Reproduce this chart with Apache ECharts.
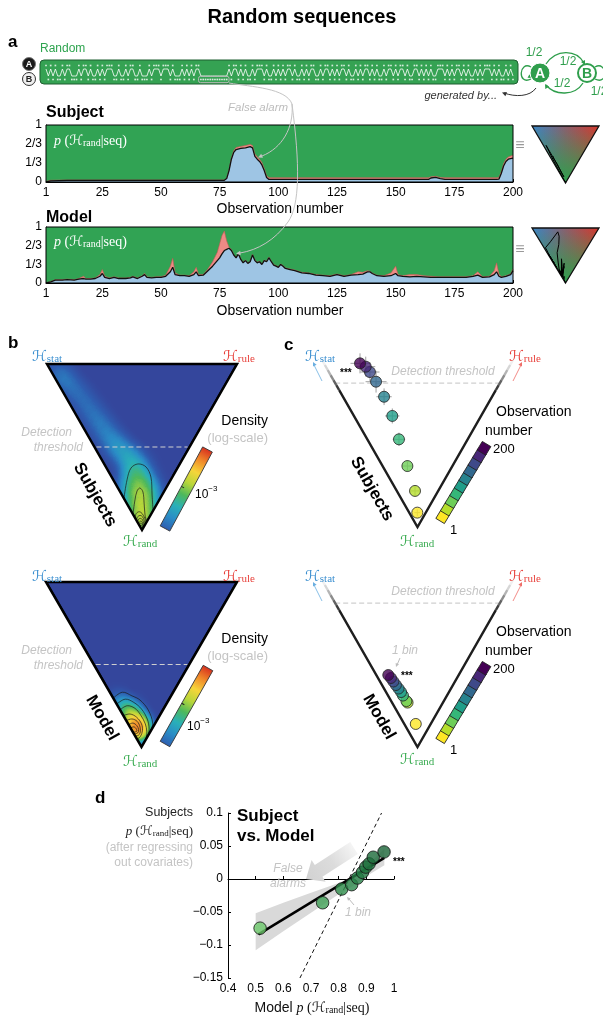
<!DOCTYPE html>
<html>
<head>
<meta charset="utf-8">
<title>Random sequences</title>
<script src="https://cdn.jsdelivr.net/npm/echarts@6/dist/echarts.min.js"></script>
<style>
html,body{margin:0;padding:0;background:#fff;}
#chart{width:603px;height:1017px;}
</style>
</head>
<body>
<div id="chart"></div>
<script>
// ---------------- data ----------------
// Observed binary sequence (A = upper row, B = lower row)
const sequence = [
  'ABABABBABAABBBABAABA', 'BBABABAAABBABBABAABB', 'ABBBABAAABAAABABBBAB', 'ABABAABBBBBBBBBBBBAB',
  'AABABABBABAAABABBABA', 'BABAABABBABABAABBABA', 'ABABABAABABBABABAABA', 'BABBABAABABAABABBAAB',
  'ABABABBAAABABABAABAB', 'ABBABABAAABABABBABAB'
].join('');
const falseAlarmRun = [67, 78];           // observations of the long B run
const obsTickValues = [1, 25, 50, 75, 100, 125, 150, 175, 200];

// posterior over hypotheses: [observation, p(stat), p(rule)]; p(rand) is the remainder
const subjectPosterior = [
  [1, 0.00, 0.01], [3, 0.02, 0.01], [10, 0.03, 0.005], [40, 0.03, 0.005], [77, 0.03, 0.005],
  [78, 0.06, 0.005], [79, 0.20, 0.01], [80, 0.40, 0.02], [81, 0.52, 0.03], [82, 0.57, 0.035],
  [84, 0.59, 0.035], [86, 0.60, 0.04], [88, 0.62, 0.04], [89, 0.60, 0.04], [90, 0.45, 0.04],
  [91, 0.40, 0.04], [92, 0.36, 0.04], [93, 0.30, 0.04], [94, 0.20, 0.035], [95, 0.08, 0.03],
  [96, 0.045, 0.03], [164, 0.045, 0.03], [165, 0.07, 0.02], [167, 0.08, 0.02], [169, 0.06, 0.02],
  [171, 0.045, 0.03], [193, 0.045, 0.03], [194, 0.05, 0.03], [195, 0.15, 0.03], [196, 0.28, 0.04],
  [197, 0.36, 0.04], [198, 0.40, 0.04], [200, 0.42, 0.05]
];
const modelPosterior = [
  [1,0,0],[3,.02,.005],[5,.05,.01],[8,.05,.01],[10,.06,.01],[13,.05,.01],[15,.07,.01],[17,.08,.04],
  [18,.07,.01],[20,.07,.01],[22,.08,.01],[24,.12,.03],[25,.17,.07],[26,.10,.02],[28,.08,.01],[30,.10,.01],
  [32,.08,.01],[35,.08,.01],[37,.09,.01],[38,.11,.01],[40,.08,.01],[42,.12,.01],[43,.15,.02],[44,.10,.01],
  [46,.09,.01],[48,.10,.01],[50,.10,.01],[52,.12,.02],[54,.20,.10],[55,.28,.16],[56,.15,.03],[58,.13,.01],
  [60,.13,.01],[62,.12,.01],[64,.15,.05],[65,.20,.08],[66,.13,.02],[68,.14,.01],[70,.22,.03],[72,.30,.08],
  [74,.40,.15],[75,.45,.25],[76,.52,.33],[77,.58,.35],[78,.60,.15],[79,.62,.02],[80,.58,.02],[81,.50,.01],
  [82,.45,.01],[83,.52,.01],[84,.42,.01],[85,.36,.01],[86,.40,.01],[87,.35,.01],[88,.38,.01],[89,.50,.01],
  [90,.40,.01],[91,.36,.01],[92,.38,.01],[93,.33,.01],[94,.40,.01],[95,.38,.01],[96,.45,.01],[97,.38,.01],
  [98,.32,.01],[99,.30,.01],[100,.28,.01],[101,.33,.01],[102,.30,.01],[103,.26,.01],[105,.24,.01],[107,.22,.01],
  [110,.18,.01],[113,.17,.01],[116,.14,.01],[119,.13,.01],[122,.12,.01],[125,.15,.01],[128,.12,.01],[131,.14,.01],
  [134,.15,.05],[136,.16,.03],[138,.20,.02],[139,.20,.01],[140,.17,.01],[142,.13,.01],[145,.12,.01],[148,.13,.05],
  [150,.17,.13],[151,.13,.02],[153,.12,.01],[156,.11,.04],[159,.12,.03],[162,.11,.02],[165,.10,.02],[168,.10,.01],
  [171,.10,.01],[174,.10,.01],[177,.10,.01],[180,.10,.01],[183,.12,.01],[185,.14,.06],[187,.10,.01],[190,.11,.01],
  [192,.15,.07],[193,.20,.16],[194,.12,.04],[195,.10,.01],[197,.12,.01],[199,.15,.01],[200,.22,.03]
];

// simplex coordinates: x = p(rule) - p(stat), y = p(rule) + p(stat); apex = H_rand
const subjectDensity = [
  [0,0.03,0.6],
  [-0.05,0.08,0.18],[0,0.08,0.18],[0.05,0.08,0.18],
  [-0.10,0.14,0.17],[-0.04,0.14,0.17],[0.02,0.14,0.17],[0.08,0.14,0.17],
  [-0.13,0.20,0.155],[-0.07,0.20,0.155],[-0.01,0.20,0.155],[0.05,0.20,0.155],[0.10,0.20,0.155],
  [-0.15,0.26,0.14],[-0.09,0.26,0.14],[-0.03,0.26,0.14],[0.03,0.26,0.14],[0.09,0.26,0.14],
  [-0.14,0.32,0.13],[-0.08,0.32,0.13],[-0.02,0.32,0.13],[0.04,0.32,0.13],
  [-0.12,0.38,0.1],[-0.06,0.38,0.1],[0.00,0.38,0.1],
  [-0.10,0.43,0.075],[-0.04,0.43,0.075],
  [-0.15,0.44,0.16],[-0.20,0.47,0.15],[-0.25,0.50,0.14],[-0.30,0.53,0.13],[-0.35,0.57,0.12],
  [-0.40,0.61,0.115],[-0.45,0.65,0.105],[-0.50,0.69,0.1],[-0.55,0.73,0.09],[-0.60,0.77,0.09],[-0.65,0.81,0.08],
  [-0.70,0.84,0.08],[-0.75,0.87,0.08],[-0.80,0.90,0.09],[-0.85,0.93,0.1],[-0.90,0.96,0.11]
];
const modelDensity = [
  [-0.05,0.09,0.8],[-0.06,0.11,0.75],[-0.04,0.12,0.7],
  [-0.10,0.15,0.6],[-0.02,0.15,0.5],[-0.13,0.19,0.45],[-0.06,0.19,0.45],[0.00,0.10,0.45],[0.03,0.13,0.33],
  [-0.17,0.23,0.35],[-0.10,0.24,0.32],[-0.21,0.26,0.28],[-0.25,0.29,0.2]
];
const subjectContours = [
  [[-0.19,0.19],[-0.158,0.301],[-0.116,0.373],[-0.042,0.398],[0.042,0.38],[0.094,0.319],[0.106,0.211],[0.116,0.12]],
  [[-0.095,0.095],[-0.074,0.181],[-0.052,0.235],[-0.022,0.253],[0.01,0.229],[0.022,0.163],[0.032,0.09],[0.045,0.06]],
  [[-0.075,0.075],[-0.06,0.10],[-0.03,0.11],[0,0.10],[0.03,0.07],[0.045,0.045]],
  [[-0.06,0.06],[-0.045,0.08],[-0.02,0.088],[0.005,0.08],[0.025,0.055],[0.035,0.035]],
  [[-0.048,0.048],[-0.035,0.065],[-0.015,0.07],[0.005,0.062],[0.02,0.04],[0.028,0.028]],
  [[-0.038,0.038],[-0.025,0.05],[-0.01,0.054],[0.005,0.046],[0.02,0.02]],
  [[-0.03,0.03],[-0.018,0.04],[-0.005,0.042],[0.008,0.03],[0.014,0.014]],
  [[-0.022,0.022],[-0.01,0.03],[0.003,0.025],[0.01,0.01]]
];
const modelContours = [
  [[-0.296,0.296],[-0.2,0.332],[-0.1,0.31],[-0.016,0.285],[0.071,0.224],[0.117,0.144],[0.09,0.09]],
  [[-0.26,0.26],[-0.17,0.29],[-0.08,0.27],[0,0.23],[0.06,0.17],[0.08,0.11],[0.07,0.07]],
  [[-0.225,0.225],[-0.15,0.25],[-0.07,0.235],[-0.01,0.195],[0.04,0.14],[0.055,0.095],[0.05,0.05]],
  [[-0.19,0.19],[-0.12,0.2],[-0.05,0.18],[0,0.14],[0.01,0.1],[-0.01,0.065],[-0.04,0.05],[-0.055,0.055]],
  [[-0.16,0.16],[-0.1,0.17],[-0.045,0.155],[-0.015,0.12],[-0.015,0.085],[-0.035,0.07],[-0.068,0.068]],
  [[-0.135,0.135],[-0.09,0.145],[-0.05,0.13],[-0.03,0.105],[-0.04,0.085],[-0.08,0.08]],
  [[-0.115,0.115],[-0.08,0.122],[-0.055,0.11],[-0.05,0.095],[-0.09,0.09]]
];
const thresholdB = 0.5;
const thresholdC = 0.862;

// 10 bins of 20 observations (bin 1 first)
const binColors = ['#fde725','#b5de2b','#6ece58','#35b779','#1f9e89','#26828e','#31688e','#3e4989','#482878','#440154'];
const subjectBins = [[-0.002,0.086],[-0.026,0.216],[-0.106,0.365],[-0.194,0.525],[-0.264,0.665],
                     [-0.35,0.78],[-0.434,0.87],[-0.498,0.928],[-0.542,0.96],[-0.602,0.98]];
const subjectBinErr = [[0.03,0.02],[0.05,0.03],[0.055,0.033],[0.065,0.04],[0.075,0.045],
                       [0.08,0.05],[0.11,0.065],[0.1,0.06],[0.1,0.06],[0.1,0.06]];
const modelBins = [[-0.018,0.138],[-0.104,0.266],[-0.116,0.275],[-0.152,0.308],[-0.172,0.329],
                   [-0.198,0.35],[-0.226,0.371],[-0.252,0.392],[-0.278,0.413],[-0.306,0.431]];

// subject vs model, per bin
const dModelP = [0.516, 0.742, 0.811, 0.847, 0.868, 0.886, 0.898, 0.910, 0.925, 0.964];
const dSubjectP = [-0.0745, -0.036, -0.0152, -0.0086, 0.0015, 0.0100, 0.018, 0.023, 0.033, 0.041];
const dColors = ['#6cc86a','#3f9f55','#2f8f4c','#2a874a','#268046','#237a43','#217540','#1f703d','#1c6a3a','#1a6437'];
const dFit = [[0.51,-0.084],[0.965,0.032]];
const dBandUpper = [[0.5,-0.052],[0.6,-0.036],[0.7,-0.021],[0.8,-0.006],[0.85,0.003],[0.9,0.019],[0.965,0.046]];
const dBandLower = [[0.5,-0.108],[0.6,-0.079],[0.7,-0.051],[0.8,-0.023],[0.85,-0.011],[0.9,0.004],[0.965,0.021]];
const dIdentity = [[0.66,-0.15],[0.955,0.1]];

// ---------------- styling ----------------
const SANS = '"Liberation Sans", Arial, sans-serif';
const SERIF = '"Liberation Serif", serif';
const SCRIPT = '"DejaVu Serif", "DejaVu Sans", serif';
const GREEN = '#31a354', PINK = '#ee8a85', LIGHTBLUE = '#9ec5e4';
const STAT_BLUE = '#3b8fd0', RULE_RED = '#e8413b', RAND_GREEN = '#3aac52';
const GRAYTXT = '#c4c4c4';
const jetColors = ['#34469c','#2e5db0','#2a8cc6','#29b0b8','#4db85c','#b8d63a','#f6d53a','#f0892a','#d7301f'];

const L = {
  seq:   {left: 46, top: 62, width: 467, height: 21},
  subj:  {left: 46, top: 125, width: 467, height: 57},
  model: {left: 46, top: 227, width: 467, height: 56},
  iconS: {left: 532, top: 126, width: 67, height: 57},
  iconM: {left: 532, top: 228, width: 67, height: 55},
  cS:    {left: 322, top: 360, width: 191, height: 167},
  cM:    {left: 322, top: 580, width: 191, height: 167},
  d:     {left: 228, top: 813, width: 166, height: 165},
  bS:    {left: 47, top: 364, width: 190, height: 166},
  bM:    {left: 46, top: 582, width: 191, height: 165}
};

const observations = [];
for (let i = 1; i <= 200; i++) observations.push(String(i));
const isObsTick = (idx) => obsTickValues.indexOf(idx + 1) >= 0;

// ---------------- helpers ----------------
function T(x, y, text, style, extra) {
  return Object.assign({type: 'text', x: x, y: y, z: 100, silent: true,
    style: Object.assign({text: text, fill: '#000', font: '12px ' + SANS, align: 'left', verticalAlign: 'middle'}, style || {})}, extra || {});
}
function richStyles(size, color) {
  const lh = size * 1.3;
  return {
    t: {font: size + 'px ' + SANS, fill: color, lineHeight: lh, verticalAlign: 'bottom'},
    i: {font: 'italic ' + size + 'px ' + SERIF, fill: color, lineHeight: lh, verticalAlign: 'bottom'},
    n: {font: size + 'px ' + SERIF, fill: color, lineHeight: lh, verticalAlign: 'bottom'},
    h: {font: size + 'px ' + SCRIPT, fill: color, lineHeight: lh, verticalAlign: 'bottom'},
    s: {font: Math.round(size * 0.7) + 'px ' + SERIF, fill: color, lineHeight: size * 0.62, verticalAlign: 'bottom'}
  };
}
function pText(x, y, size, color, align, prefix) {
  return T(x, y, (prefix ? '{t|' + prefix + '}' : '') + '{i|p}{n| (}{h|ℋ}{s|rand}{n||seq)}',
    {rich: richStyles(size, color), align: align || 'left'});
}
function hText(x, y, sub, color, align) {
  return T(x, y, '{h|ℋ}{s|' + sub + '}', {rich: richStyles(15, color), align: align || 'left'});
}
function arrowHead(x, y, ang, size, color) {
  const a1 = ang + Math.PI * 0.85, a2 = ang - Math.PI * 0.85;
  return {type: 'polygon', z: 100, silent: true,
    shape: {points: [[x, y], [x + size * Math.cos(a1), y + size * Math.sin(a1)], [x + size * Math.cos(a2), y + size * Math.sin(a2)]]},
    style: {fill: color}};
}
function curve(x1, y1, c1x, c1y, c2x, c2y, x2, y2, color, w, dash) {
  return {type: 'bezierCurve', z: 100, silent: true,
    shape: {x1: x1, y1: y1, cpx1: c1x, cpy1: c1y, cpx2: c2x, cpy2: c2y, x2: x2, y2: y2},
    style: {stroke: color, lineWidth: w || 1, fill: 'none', lineDash: dash || null}};
}
function seg(x1, y1, x2, y2, color, w) {
  return {type: 'line', z: 100, silent: true, shape: {x1: x1, y1: y1, x2: x2, y2: y2}, style: {stroke: color, lineWidth: w || 1}};
}
function fatArrow(x1, y1, x2, y2, w, hw, hl) {
  const dx = x2 - x1, dy = y2 - y1, len = Math.hypot(dx, dy), ux = dx / len, uy = dy / len, nx = -uy, ny = ux;
  const bx = x2 - ux * hl, by = y2 - uy * hl;
  return {type: 'polygon', z: 3, silent: true, shape: {points: [
    [x1 + nx * w / 2, y1 + ny * w / 2], [bx + nx * w / 2, by + ny * w / 2], [bx + nx * hw / 2, by + ny * hw / 2], [x2, y2],
    [bx - nx * hw / 2, by - ny * hw / 2], [bx - nx * w / 2, by - ny * w / 2], [x1 - nx * w / 2, y1 - ny * w / 2]]},
    style: {fill: new echarts.graphic.LinearGradient(x1, y1, x2, y2,
      [{offset: 0, color: 'rgba(220,220,220,0.3)'}, {offset: 0.45, color: '#dcdcdc'}, {offset: 1, color: '#d2d2d2'}], true)}};
}
// colour strip laid along a slanted edge, from (x0,y0) to (x1,y1)
function jetBar(x0, y0, x1, y1, w) {
  const len = Math.hypot(x1 - x0, y1 - y0), ang = Math.atan2(-(y1 - y0), x1 - x0);
  const stops = jetColors.slice(1).map((c, i, a) => ({offset: i / (a.length - 1), color: c}));
  return {type: 'group', x: x0, y: y0, rotation: ang, z: 100, silent: true, children: [
    {type: 'rect', z: 100, shape: {x: 0, y: -w / 2, width: len, height: w},
     style: {fill: {type: 'linear', x: 0, y: 0, x2: 1, y2: 0, colorStops: stops}, stroke: '#333', lineWidth: 0.8}},
    {type: 'line', z: 100, shape: {x1: len * 0.5, y1: -w / 2, x2: len * 0.5, y2: -w / 2 + 3}, style: {stroke: '#222', lineWidth: 1}}
  ]};
}
function binBar(x0, y0, x1, y1, size) {
  const len = Math.hypot(x1 - x0, y1 - y0), ang = Math.atan2(-(y1 - y0), x1 - x0), step = len / (binColors.length - 1);
  return {type: 'group', x: x0, y: y0, rotation: ang, z: 100, silent: true,
    children: binColors.map((c, i) => ({type: 'rect', z: 100, shape: {x: i * step - size / 2, y: -size / 2, width: size, height: size},
      style: {fill: c, stroke: '#222', lineWidth: 0.8}}))};
}

// ---------------- series ----------------
const series = [];
const seqDots = [], seqLine = [];
for (let i = 0; i < sequence.length; i++) {
  const up = sequence[i] === 'A';
  seqDots.push([i, up ? 1 : -1]);
  seqLine.push([i, up ? 0.5 : -0.5]);
}
series.push({type: 'scatter', xAxisIndex: 0, yAxisIndex: 0, data: seqDots, symbol: 'rect', symbolSize: [1.7, 1.7],
  itemStyle: {color: '#fff'}, silent: true, z: 3});
series.push({type: 'line', xAxisIndex: 0, yAxisIndex: 0, data: seqLine, symbol: 'none',
  lineStyle: {color: '#fff', width: 0.8}, silent: true, z: 3});
series.push({type: 'custom', xAxisIndex: 0, yAxisIndex: 0, data: [[falseAlarmRun[0] - 1, falseAlarmRun[1] - 1]], silent: true, z: 4,
  renderItem: function (params, api) {
    const a = api.coord([api.value(0) - 0.8, -0.55]), b = api.coord([api.value(1) + 0.8, -1.45]);
    return {type: 'rect', shape: {x: a[0], y: a[1], width: b[0] - a[0], height: b[1] - a[1], r: 2},
      style: {fill: 'none', stroke: '#b8b8b8', lineWidth: 1}};
  }});

function areaSeries(post, ai) {
  const common = {type: 'line', xAxisIndex: ai, yAxisIndex: ai, symbol: 'none', silent: true, z: 2};
  return [
    Object.assign({}, common, {data: post.map(r => [r[0] - 1, 1]), lineStyle: {width: 0}, areaStyle: {color: GREEN, opacity: 1}}),
    Object.assign({}, common, {data: post.map(r => [r[0] - 1, r[1] + r[2]]), lineStyle: {width: 0.6, color: '#c85a55'}, areaStyle: {color: PINK, opacity: 1}}),
    Object.assign({}, common, {data: post.map(r => [r[0] - 1, r[1]]), lineStyle: {width: 1.3, color: '#111'}, areaStyle: {color: LIGHTBLUE, opacity: 1}})
  ];
}
areaSeries(subjectPosterior, 1).forEach(s => series.push(s));
areaSeries(modelPosterior, 2).forEach(s => series.push(s));

function triIcon(params, api) {
  const tl = api.coord([-1, 1]), tr = api.coord([1, 1]), ap = api.coord([0, 0]);
  const pts = [tl, tr, ap];
  return {type: 'group', children: [
    {type: 'polygon', shape: {points: pts}, style: {fill: {type: 'linear', x: tl[0], y: 0, x2: tr[0], y2: 0, global: true,
      colorStops: [{offset: 0, color: '#3a86c6'}, {offset: 0.5, color: '#8a5f6e'}, {offset: 1, color: '#d9362c'}]}}},
    {type: 'polygon', shape: {points: pts}, style: {fill: {type: 'linear', x: 0, y: tl[1], x2: 0, y2: ap[1], global: true,
      colorStops: [{offset: 0, color: 'rgba(46,160,76,0)'}, {offset: 1, color: 'rgba(46,160,76,1)'}]}}},
    {type: 'polygon', shape: {points: pts}, style: {fill: 'none', stroke: '#111', lineWidth: 1.3}}
  ]};
}
[[3, subjectPosterior], [4, modelPosterior]].forEach(function (p) {
  series.push({type: 'custom', xAxisIndex: p[0], yAxisIndex: p[0], data: [[0, 0]], renderItem: triIcon, silent: true, z: 2});
  series.push({type: 'line', xAxisIndex: p[0], yAxisIndex: p[0], data: p[1].map(r => [r[2] - r[1], r[1] + r[2]]),
    symbol: 'none', lineStyle: {color: '#000', width: 1}, silent: true, z: 3});
});

// panel c: zoomed simplex with binned averages
const fadeGrays = ['#f0f0f0', '#d6d6d6', '#b4b4b4', '#8c8c8c', '#626262', '#3c3c3c'];
function vArms(params, api) {
  const ap = api.coord([0, 0]);
  const kids = [];
  const t0 = api.coord([-thresholdC, thresholdC]), t1 = api.coord([thresholdC, thresholdC]);
  kids.push({type: 'line', shape: {x1: t0[0], y1: t0[1], x2: t1[0], y2: t1[1]}, style: {stroke: '#cfcfcf', lineWidth: 1.2, lineDash: [5, 3]}});
  const fadeStart = 0.82, n = fadeGrays.length;
  kids.push({type: 'polyline', shape: {points: [api.coord([-fadeStart, fadeStart]), ap, api.coord([fadeStart, fadeStart])]},
    style: {stroke: '#1e1e1e', lineWidth: 2.4, fill: 'none', lineJoin: 'miter'}});
  [-1, 1].forEach(function (s) {
    for (let k = 0; k < n; k++) {
      const v0 = 1 - (1 - fadeStart) * k / n, v1 = 1 - (1 - fadeStart) * (k + 1) / n;
      const a = api.coord([s * v0, v0]), b = api.coord([s * v1, v1]);
      kids.push({type: 'line', shape: {x1: a[0], y1: a[1], x2: b[0], y2: b[1]}, style: {stroke: fadeGrays[k], lineWidth: 2.4}});
    }
  });
  return {type: 'group', children: kids};
}
series.push({type: 'custom', xAxisIndex: 5, yAxisIndex: 5, data: [[0, 0]], renderItem: vArms, silent: true, z: 2});
series.push({type: 'custom', xAxisIndex: 5, yAxisIndex: 5, silent: true, z: 3,
  data: subjectBins.map((b, i) => [b[0], b[1], subjectBinErr[i][0], subjectBinErr[i][1]]),
  renderItem: function (params, api) {
    const x = api.value(0), y = api.value(1), ex = api.value(2), ey = api.value(3);
    const a = api.coord([x - ex, y]), b = api.coord([x + ex, y]), c = api.coord([x, y - ey]), d = api.coord([x, y + ey]);
    return {type: 'group', children: [
      {type: 'line', shape: {x1: a[0], y1: a[1], x2: b[0], y2: b[1]}, style: {stroke: '#a0a0a0', lineWidth: 1}},
      {type: 'line', shape: {x1: c[0], y1: c[1], x2: d[0], y2: d[1]}, style: {stroke: '#a0a0a0', lineWidth: 1}}
    ]};
  }});
series.push({type: 'scatter', xAxisIndex: 5, yAxisIndex: 5, symbolSize: 11, silent: true, z: 4,
  data: subjectBins.map((b, i) => ({value: b, itemStyle: {color: binColors[i], borderColor: '#222', borderWidth: 1}}))});
series.push({type: 'custom', xAxisIndex: 6, yAxisIndex: 6, data: [[0, 0]], renderItem: vArms, silent: true, z: 2});
series.push({type: 'scatter', xAxisIndex: 6, yAxisIndex: 6, symbolSize: 11, silent: true, z: 4,
  data: modelBins.map((b, i) => ({value: b, itemStyle: {color: binColors[i], borderColor: '#222', borderWidth: 1}}))});

// panel b: density over the simplex
const heatIdx = [];
function simplexOverlay(contours) {
  return function (params, api) {
    const P = p => api.coord(p);
    const kids = [
      {type: 'polygon', shape: {points: [P([-1, 1]), P([0, 0]), P([0, -0.06]), P([-1.08, -0.06]), P([-1.08, 1.02]), P([-1, 1.02])]}, style: {fill: '#fff'}},
      {type: 'polygon', shape: {points: [P([1, 1]), P([0, 0]), P([0, -0.06]), P([1.08, -0.06]), P([1.08, 1.02]), P([1, 1.02])]}, style: {fill: '#fff'}}
    ];
    contours.forEach(c => kids.push({type: 'polyline', shape: {points: c.map(P), smooth: 0.35}, style: {stroke: '#1a1a1a', lineWidth: 0.7, fill: 'none'}}));
    const t0 = P([-thresholdB + 0.02, thresholdB]), t1 = P([thresholdB - 0.02, thresholdB]);
    kids.push({type: 'line', shape: {x1: t0[0], y1: t0[1], x2: t1[0], y2: t1[1]}, style: {stroke: '#cfcfcf', lineWidth: 1.2, lineDash: [5, 3]}});
    kids.push({type: 'polygon', shape: {points: [P([-1, 1]), P([1, 1]), P([0, 0])]}, style: {fill: 'none', stroke: '#000', lineWidth: 2.5, lineJoin: 'miter'}});
    return {type: 'group', children: kids};
  };
}
[[0, subjectDensity, subjectContours, 12, 16], [1, modelDensity, modelContours, 8, 14]].forEach(function (p) {
  heatIdx.push(series.length);
  series.push({type: 'heatmap', coordinateSystem: 'geo', geoIndex: p[0], data: p[1], pointSize: p[3], blurSize: p[4],
    minOpacity: 1, maxOpacity: 1, silent: true, z: 2});
  series.push({type: 'custom', coordinateSystem: 'geo', geoIndex: p[0], data: [[0, 0.5]], renderItem: simplexOverlay(p[2]), silent: true, z: 3});
});

// panel d
series.push({type: 'custom', xAxisIndex: 7, yAxisIndex: 7, data: [[0.5, 0]], silent: true, z: 2,
  renderItem: function (params, api) {
    const pts = dBandUpper.map(p => api.coord(p)).concat(dBandLower.slice().reverse().map(p => api.coord(p)));
    return {type: 'polygon', shape: {points: pts}, style: {fill: '#d9d9d9'}};
  }});
series.push({type: 'line', xAxisIndex: 7, yAxisIndex: 7, data: dIdentity, symbol: 'none', silent: true, z: 3,
  lineStyle: {color: '#111', width: 1, type: [4, 3]}});
series.push({type: 'line', xAxisIndex: 7, yAxisIndex: 7, data: dFit, symbol: 'none', silent: true, z: 4,
  lineStyle: {color: '#000', width: 2.5}});
series.push({type: 'scatter', xAxisIndex: 7, yAxisIndex: 7, symbolSize: 12.5, silent: true, z: 5,
  data: dModelP.map((x, i) => ({value: [x, dSubjectP[i]], itemStyle: {color: dColors[i], borderColor: '#111', borderWidth: 1}}))});

// ---------------- axes ----------------
const axisBlack = {show: true, lineStyle: {color: '#000', width: 1}};
const hx = gi => ({type: 'value', gridIndex: gi, min: -1, max: 1, show: false});
const hy = gi => ({type: 'value', gridIndex: gi, min: 0, max: 1, show: false});
const obsX = gi => ({type: 'category', gridIndex: gi, data: observations, boundaryGap: false,
  axisLine: axisBlack, axisTick: {show: true, inside: true, length: 3, interval: isObsTick, lineStyle: {color: '#000'}},
  axisLabel: {interval: isObsTick, color: '#000', fontSize: 12, fontFamily: 'Liberation Sans', margin: 5},
  splitLine: {show: false}});
const probY = gi => ({type: 'value', gridIndex: gi, min: 0, max: 1, interval: 1 / 3,
  axisLine: axisBlack, axisTick: {show: true, inside: true, length: 3, lineStyle: {color: '#000'}},
  axisLabel: {color: '#000', fontSize: 12, fontFamily: 'Liberation Sans', margin: 4,
    formatter: v => ['0', '1/3', '2/3', '1'][Math.round(v * 3)]},
  splitLine: {show: false}});

const xAxis = [
  {type: 'category', gridIndex: 0, data: observations, boundaryGap: false, show: false},
  obsX(1), obsX(2), hx(3), hx(4), hx(5), hx(6),
  {type: 'value', gridIndex: 7, min: 0.4, max: 1, interval: 0.1, axisLine: axisBlack,
   axisTick: {show: true, inside: true, length: 3, lineStyle: {color: '#000'}},
   axisLabel: {color: '#000', fontSize: 12, fontFamily: 'Liberation Sans', margin: 5,
     formatter: v => { const r = Math.round(v * 10) / 10; return r === 1 ? '1' : r.toFixed(1); }},
   splitLine: {show: false}}
];
const yAxis = [
  {type: 'value', gridIndex: 0, min: -1.5, max: 1.5, show: false},
  probY(1), probY(2), hy(3), hy(4), hy(5), hy(6),
  {type: 'value', gridIndex: 7, min: -0.15, max: 0.1, interval: 0.05, axisLine: axisBlack,
   axisTick: {show: true, inside: true, length: 3, lineStyle: {color: '#000'}},
   axisLabel: {color: '#000', fontSize: 12, fontFamily: 'Liberation Sans', margin: 5,
     formatter: v => { const r = Math.round(v * 100) / 100; return r === 0 ? '0' : (r < 0 ? '\u2212' : '') + String(Math.abs(r)); }},
   splitLine: {show: false}}
];
const grid = ['seq', 'subj', 'model', 'iconS', 'iconM', 'cS', 'cM', 'd'].map(k => Object.assign({outerBoundsMode: 'none', show: false}, L[k]));

echarts.registerMap('simplex', {type: 'FeatureCollection', features: [{type: 'Feature', properties: {name: 'simplex'},
  geometry: {type: 'Polygon', coordinates: [[[-1, 1], [0, 0], [1, 1], [-1, 1]]]}}]});
const geoOf = k => Object.assign({map: 'simplex', roam: false, silent: true, aspectScale: 1,
  boundingCoords: [[-1, 1], [1, 0]], label: {show: false}, itemStyle: {areaColor: '#34469c', borderColor: '#000', borderWidth: 2},
  emphasis: {disabled: true}, select: {disabled: true}, tooltip: {show: false}}, L[k]);

// ---------------- annotations & labels ----------------
const G = [];
// title and panel a
G.push(T(302, 17, 'Random sequences', {font: 'bold 20px ' + SANS, align: 'center'}));
G.push(T(8, 42, 'a', {font: 'bold 17px ' + SANS}));
G.push(T(40, 49, 'Random', {font: '12px ' + SANS, fill: '#2ea44f'}));
G.push({type: 'rect', z: 1, silent: true, shape: {x: 40, y: 60, width: 478, height: 24, r: 4},
  style: {fill: '#35a253', stroke: '#1f5f31', lineWidth: 1}});
G.push({type: 'circle', z: 100, silent: true, shape: {cx: 29, cy: 64, r: 6.5}, style: {fill: '#1b1b1b', stroke: '#777', lineWidth: 1}});
G.push(T(29, 64.5, 'A', {font: 'bold 9px ' + SANS, fill: '#fff', align: 'center'}));
G.push({type: 'circle', z: 100, silent: true, shape: {cx: 29, cy: 79, r: 6.5}, style: {fill: '#f0f0f0', stroke: '#333', lineWidth: 1}});
G.push(T(29, 79.5, 'B', {font: 'bold 9px ' + SANS, fill: '#222', align: 'center'}));
// generating process
const DG = '#2f9e4c';
G.push(curve(546, 64, 556, 49, 576, 49, 584, 63, DG, 1.3));
G.push(arrowHead(585, 65, 1.1, 5, DG));
G.push(curve(583, 83, 575, 96, 555, 96, 546, 85, DG, 1.3));
G.push(arrowHead(545, 84, -2.1, 5, DG));
G.push(curve(531, 67, 519, 60, 517, 86, 531, 79, DG, 1.3));
G.push(arrowHead(532, 78, 0.5, 4.5, DG));
G.push(curve(595, 67, 607, 60, 609, 86, 595, 79, DG, 1.3));
G.push({type: 'circle', z: 100, silent: true, shape: {cx: 540, cy: 73, r: 10}, style: {fill: DG, stroke: '#fff', lineWidth: 1}});
G.push(T(540, 74, 'A', {font: 'bold 14px ' + SANS, fill: '#fff', align: 'center'}));
G.push({type: 'circle', z: 100, silent: true, shape: {cx: 587, cy: 73, r: 9}, style: {fill: '#fff', stroke: DG, lineWidth: 2}});
G.push(T(587, 74, 'B', {font: 'bold 14px ' + SANS, fill: DG, align: 'center'}));
G.push(T(534, 53, '1/2', {font: '12px ' + SANS, fill: DG, align: 'center'}));
G.push(T(568, 62, '1/2', {font: '12px ' + SANS, fill: DG, align: 'center'}));
G.push(T(562, 84, '1/2', {font: '12px ' + SANS, fill: DG, align: 'center'}));
G.push(T(599, 92, '1/2', {font: '12px ' + SANS, fill: DG, align: 'center'}));
G.push(T(497, 96, 'generated by...', {font: 'italic 11px ' + SANS, fill: '#333', align: 'right'}));
G.push(curve(536, 88, 530, 97, 515, 97, 504, 93, '#333', 1));
G.push(arrowHead(502, 92.5, Math.PI + 0.35, 5, '#333'));
// false alarm annotation
G.push(T(258, 108, 'False alarm', {font: 'italic 11.5px ' + SANS, fill: '#bdbdbd', align: 'center'}));
G.push(curve(229, 83, 252, 87, 286, 88, 292, 104, '#c4c4c4', 1));
G.push(curve(292, 104, 294, 128, 282, 148, 262, 156, '#c4c4c4', 1));
G.push(arrowHead(258, 157.5, Math.PI - 0.4, 5, '#c4c4c4'));
G.push(curve(292, 104, 300, 165, 300, 205, 288, 222, '#c4c4c4', 1));
G.push(curve(288, 222, 275, 240, 258, 250, 240, 253, '#c4c4c4', 1));
G.push(arrowHead(236, 253.5, Math.PI - 0.1, 5, '#c4c4c4'));
// plot headings and frames
G.push(T(46, 113, 'Subject', {font: 'bold 16px ' + SANS}));
G.push(T(46, 218, 'Model', {font: 'bold 16px ' + SANS}));
['subj', 'model'].forEach(k => G.push({type: 'rect', z: 50, silent: true,
  shape: {x: L[k].left, y: L[k].top, width: L[k].width, height: L[k].height}, style: {fill: 'none', stroke: '#000', lineWidth: 1}}));
G.push(pText(54, 139, 14, '#fff'));
G.push(pText(54, 240, 14, '#fff'));
G.push(T(280, 209, 'Observation number', {font: '14px ' + SANS, align: 'center'}));
G.push(T(280, 311, 'Observation number', {font: '14px ' + SANS, align: 'center'}));
G.push(T(520, 146, '≡', {font: '16px ' + SANS, fill: '#999', align: 'center'}));
G.push(T(520, 250, '≡', {font: '16px ' + SANS, fill: '#999', align: 'center'}));

// panel b
G.push(T(8, 343, 'b', {font: 'bold 17px ' + SANS}));
[[355, 540, 0], [575, 760, 218]].forEach(function (r) {
  G.push(hText(32, r[0], 'stat', STAT_BLUE));
  G.push(hText(223, r[0], 'rule', RULE_RED));
  G.push(hText(123, r[1], 'rand', RAND_GREEN));
  G.push(T(72, 433 + r[2], 'Detection', {font: 'italic 12px ' + SANS, fill: GRAYTXT, align: 'right'}));
  G.push(T(83, 448 + r[2], 'threshold', {font: 'italic 12px ' + SANS, fill: GRAYTXT, align: 'right'}));
  G.push(T(268, 421 + r[2], 'Density', {font: '14px ' + SANS, align: 'right'}));
  G.push(T(268, 438 + r[2], '(log-scale)', {font: '13px ' + SANS, fill: GRAYTXT, align: 'right'}));
});
G.push(T(95, 495, 'Subjects', {font: 'bold 17px ' + SANS, align: 'center'}, {rotation: -1.05}));
G.push(T(102, 718, 'Model', {font: 'bold 17px ' + SANS, align: 'center'}, {rotation: -1.05}));
G.push(jetBar(165, 528.5, 207.5, 449.5, 11));
G.push(jetBar(165, 744, 208, 668, 11));
const supRich = {a: {font: '12px ' + SANS, fill: '#000', lineHeight: 16, verticalAlign: 'bottom'},
                 b: {font: '8px ' + SANS, fill: '#000', lineHeight: 9, verticalAlign: 'top'}};
G.push(T(195, 493, '{a|10}{b|\u22123}', {rich: supRich}));
G.push(T(187, 725, '{a|10}{b|\u22123}', {rich: supRich}));

// panel c
G.push(T(284, 345, 'c', {font: 'bold 17px ' + SANS}));
[[355, 540, 0], [575, 758, 220]].forEach(function (r) {
  G.push(hText(305, r[0], 'stat', STAT_BLUE));
  G.push(hText(509, r[0], 'rule', RULE_RED));
  G.push(hText(400, r[1], 'rand', RAND_GREEN));
  G.push(seg(322, 381 + r[2], 314, 365 + r[2], '#6aaee0', 0.8));
  G.push(arrowHead(313, 362 + r[2], -2.04, 4.5, '#6aaee0'));
  G.push(seg(513, 381 + r[2], 521, 365 + r[2], '#ef6d68', 0.8));
  G.push(arrowHead(522, 362 + r[2], -1.1, 4.5, '#ef6d68'));
  G.push(T(443, 372 + r[2], 'Detection threshold', {font: 'italic 12px ' + SANS, fill: GRAYTXT, align: 'center'}));
  G.push(T(496, 412 + r[2], 'Observation', {font: '14px ' + SANS}));
  G.push(T(485, 431 + r[2], 'number', {font: '14px ' + SANS}));
  G.push(T(493, 449 + r[2], '200', {font: '13px ' + SANS}));
  G.push(T(450, 530 + r[2], '1', {font: '13px ' + SANS}));
  G.push(binBar(442.7, 516.7 + r[2], 484, 448.3 + r[2], 10));
});
G.push(T(372, 489, 'Subjects', {font: 'bold 17px ' + SANS, align: 'center'}, {rotation: -1.05}));
G.push(T(379, 717, 'Model', {font: 'bold 17px ' + SANS, align: 'center'}, {rotation: -1.05}));
G.push(T(340, 373, '***', {font: 'bold 10px ' + SANS}));
G.push(T(401, 676, '***', {font: 'bold 10px ' + SANS}));
G.push(T(405, 651, '1 bin', {font: 'italic 12px ' + SANS, fill: GRAYTXT, align: 'center'}));
G.push(seg(400, 658, 397, 665, '#bdbdbd', 1));
G.push(arrowHead(396, 667, 1.95, 4, '#bdbdbd'));

// panel d
G.push(T(95, 798, 'd', {font: 'bold 17px ' + SANS}));
G.push(T(237, 816, 'Subject', {font: 'bold 17px ' + SANS}));
G.push(T(237, 836, 'vs. Model', {font: 'bold 17px ' + SANS}));
G.push(T(193, 813, 'Subjects', {font: '12.5px ' + SANS, fill: '#222', align: 'right'}));
G.push(pText(193, 830, 13, '#222', 'right'));
G.push(T(193, 848, '(after regressing', {font: '12px ' + SANS, fill: GRAYTXT, align: 'right'}));
G.push(T(193, 863, 'out covariates)', {font: '12px ' + SANS, fill: GRAYTXT, align: 'right'}));
G.push(pText(312, 1006, 14, '#111', 'center', 'Model '));
G.push(fatArrow(354, 848, 306, 879, 14, 26, 15));
G.push(T(288, 869, 'False', {font: 'italic 12px ' + SANS, fill: GRAYTXT, align: 'center'}));
G.push(T(288, 884, 'alarms', {font: 'italic 12px ' + SANS, fill: GRAYTXT, align: 'center'}));
G.push(T(358, 913, '1 bin', {font: 'italic 12px ' + SANS, fill: GRAYTXT, align: 'center'}));
G.push(seg(354, 905, 349, 899, '#bdbdbd', 1));
G.push(arrowHead(347, 897, -2.3, 4, '#bdbdbd'));
G.push(T(393, 862, '***', {font: 'bold 10px ' + SANS}));

// ---------------- chart ----------------
const chart = echarts.init(document.getElementById('chart'), null, {renderer: 'canvas', width: 603, height: 1017});
chart.setOption({
  animation: false,
  backgroundColor: '#fff',
  textStyle: {fontFamily: 'Liberation Sans'},
  grid: grid,
  xAxis: xAxis,
  yAxis: yAxis,
  geo: [geoOf('bS'), geoOf('bM')],
  visualMap: [{type: 'continuous', show: false, min: 0, max: 1, seriesIndex: heatIdx, inRange: {color: jetColors}}],
  series: series,
  graphic: {elements: G}
});
</script>
</body>
</html>
